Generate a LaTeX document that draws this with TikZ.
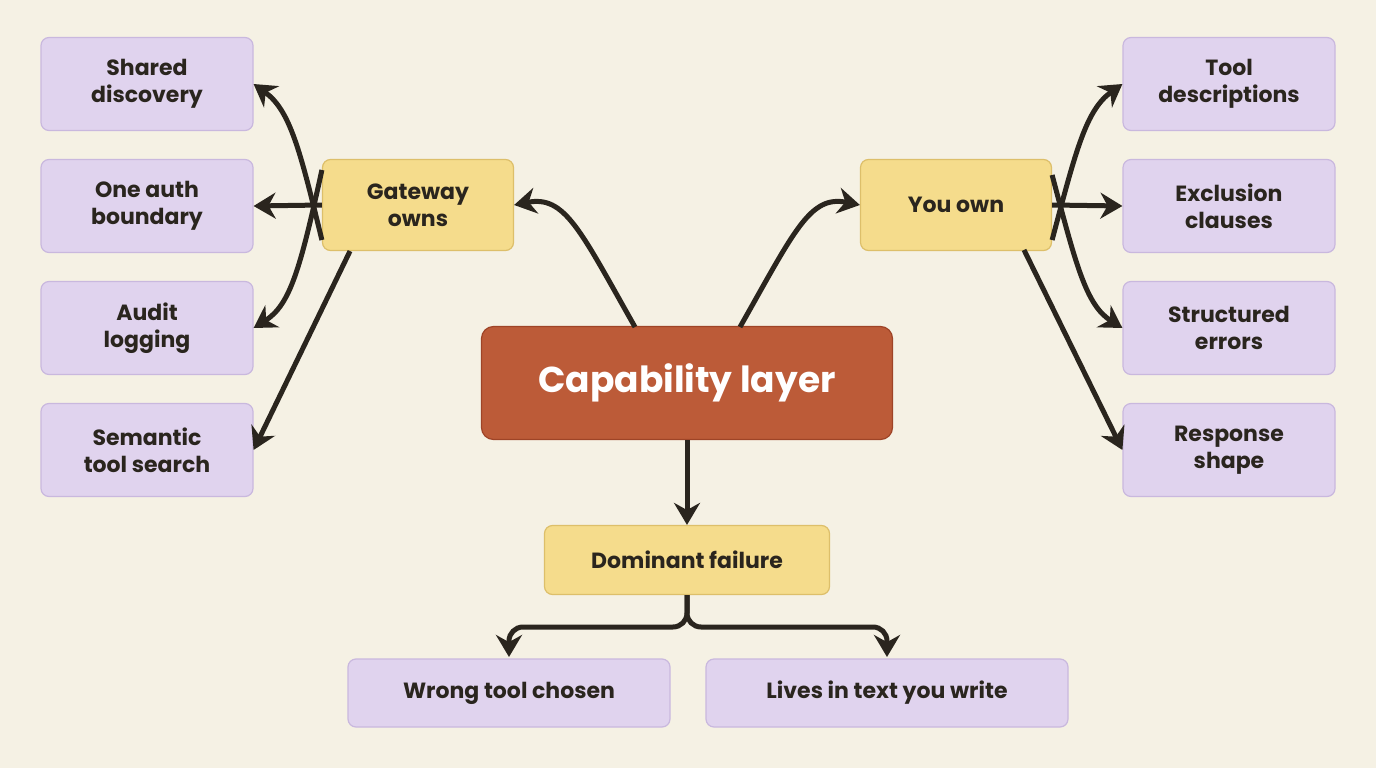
\documentclass[tikz,border=0pt]{standalone}
\usepackage{fontspec}
\setmainfont{Poppins}
\usetikzlibrary{arrows.meta}
\definecolor{bg}{HTML}{F5F1E4}
\definecolor{purp}{HTML}{E0D3EE}
\definecolor{purpb}{HTML}{C9B8DE}
\definecolor{yel}{HTML}{F5DC8C}
\definecolor{yelb}{HTML}{DDBF6A}
\definecolor{rust}{HTML}{BC5B38}
\definecolor{rustb}{HTML}{9E4427}
\definecolor{ink}{HTML}{2A251E}
\begin{document}
\begin{tikzpicture}[x=1pt,y=-1pt,
  leaf/.style={draw=purpb,fill=purp,rounded corners=8pt,line width=1.2pt,minimum width=212pt,minimum height=93pt,align=center,font=\fontsize{22}{27}\selectfont\bfseries,text=ink},
  mid/.style={draw=yelb,fill=yel,rounded corners=8pt,line width=1.2pt,minimum width=191pt,minimum height=91pt,align=center,font=\fontsize{22}{27}\selectfont\bfseries,text=ink},
  bot/.style={leaf,minimum height=68pt},
  arr/.style={draw=ink,line width=5pt,-{Stealth[length=22pt,width=26pt]}}]
\fill[bg] (0,0) rectangle (1376,768);
\node[draw=rustb,fill=rust,rounded corners=12pt,line width=1.2pt,minimum width=411pt,minimum height=113pt,text=white,font=\fontsize{36}{40}\selectfont\bfseries] (c) at (687,383) {Capability layer};
\node[mid] (g) at (418,205) {Gateway\\owns};
\node[mid] (y) at (956,205) {You own};
\node[mid,minimum width=285pt,minimum height=69pt] (d) at (687,560) {Dominant failure};
\node[leaf] (l1) at (147,84) {Shared\\discovery};
\node[leaf] (l2) at (147,206) {One auth\\boundary};
\node[leaf] (l3) at (147,328) {Audit\\logging};
\node[leaf] (l4) at (147,450) {Semantic\\tool search};
\node[leaf] (r1) at (1229,84) {Tool\\descriptions};
\node[leaf] (r2) at (1229,206) {Exclusion\\clauses};
\node[leaf] (r3) at (1229,328) {Structured\\errors};
\node[leaf] (r4) at (1229,450) {Response\\shape};
\node[bot,minimum width=322pt] (b1) at (509,693) {Wrong tool chosen};
\node[bot,minimum width=362pt] (b2) at (887,693) {Lives in text you write};
\coordinate (cl) at (635,327); \coordinate (cr) at (740,327);
\draw[arr] (cl) .. controls (580,230) and (565,195) .. (g.east);
\draw[arr] (cr) .. controls (795,230) and (810,195) .. (y.west);
\draw[arr] ([yshift=-35pt]g.west) .. controls (300,150) and (290,110) .. (l1.east);
\draw[arr] (g.west) -- (l2.east);
\draw[arr] ([yshift=35pt]g.west) .. controls (300,270) and (290,305) .. (l3.east);
\draw[arr] ([xshift=-68pt]g.south) -- (l4.east);
\draw[arr] ([yshift=-35pt]y.east) .. controls (1076,150) and (1086,110) .. (r1.west);
\draw[arr] (y.east) -- (r2.west);
\draw[arr] ([yshift=30pt]y.east) .. controls (1076,265) and (1086,305) .. (r3.west);
\draw[arr] ([xshift=68pt]y.north) ++(0,91) -- (r4.west);
\draw[arr] (c.south) -- (d.north);
\draw[arr,rounded corners=14pt] (d.south) -- (687,627) -- (509,627) -- (509,657);
\draw[arr,rounded corners=14pt] (d.south) -- (687,627) -- (887,627) -- (887,657);
\end{tikzpicture}
\end{document}
